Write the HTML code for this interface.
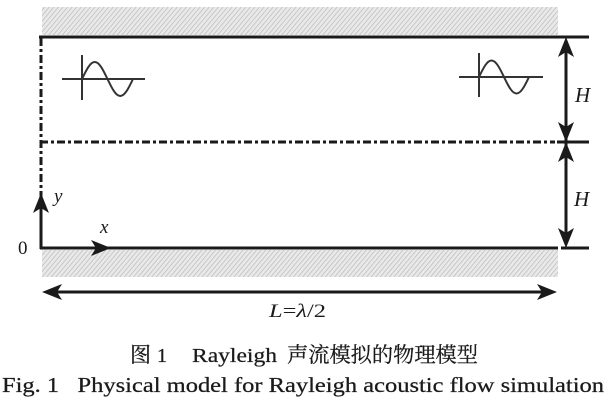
<!DOCTYPE html>
<html><head><meta charset="utf-8"><style>
html,body{margin:0;padding:0;background:#fff;}
svg{display:block;}
</style></head><body>
<svg width="616" height="409" viewBox="0 0 616 409" xmlns="http://www.w3.org/2000/svg">
<defs>
<pattern id="h" width="3.5" height="3.5" patternUnits="userSpaceOnUse" patternTransform="rotate(40)">
<rect width="3.5" height="3.5" fill="#e9e9e9"/>
<line x1="0" y1="0" x2="0" y2="3.5" stroke="#b3b3b3" stroke-width="1.2"/>
</pattern>
</defs>
<rect x="42" y="7" width="516" height="28" fill="url(#h)"/>
<rect x="42" y="250" width="516" height="27" fill="url(#h)"/>

<g stroke="#1a1a1a" stroke-width="3" fill="none">
<line x1="39" y1="37" x2="589" y2="37"/>
<line x1="41" y1="38" x2="41" y2="210" stroke-dasharray="8 3 3 3"/>
<line x1="41" y1="205" x2="41" y2="249"/>
<line x1="40" y1="142" x2="555" y2="142" stroke-dasharray="8 3 3 3"/>
<line x1="557" y1="142" x2="589" y2="142"/>
<line x1="40" y1="248" x2="558" y2="248"/>
<line x1="561" y1="248" x2="589" y2="248"/>
<line x1="566" y1="45" x2="566" y2="240"/>
<line x1="50" y1="292" x2="550" y2="292"/>
</g>
<g fill="#1a1a1a">
<path d="M41,193 L33,213 L41,208 L49,213 Z"/>
<path d="M111,248 L91,240 L96,248 L91,256 Z"/>
<path d="M566,37 L558,57 L566,52 L574,57 Z"/>
<path d="M566,142 L558,122 L566,127 L574,122 Z"/>
<path d="M566,142 L558,162 L566,157 L574,162 Z"/>
<path d="M566,248 L558,228 L566,233 L574,228 Z"/>
<path d="M42,292 L62,284 L57,292 L62,300 Z"/>
<path d="M557,292 L537,284 L542,292 L537,300 Z"/>
</g>

<g stroke="#333" stroke-width="2" fill="none">
<line x1="62" y1="79" x2="145" y2="79"/>
<line x1="82" y1="55" x2="82" y2="100"/>
<path d="M82,79 C86.26,70.07 90.12,62 94.75,62 C99.38,62 103.24,70.07 107.5,79 C111.76,87.93 115.62,96 120.25,96 C124.88,96 128.74,87.93 133,79"/>
<line x1="459" y1="77" x2="543" y2="77"/>
<line x1="479" y1="53" x2="479" y2="97"/>
<path d="M479,77 C483.18,68.34 486.96,60.5 491.5,60.5 C496.04,60.5 499.82,68.34 504,77 C508.18,85.66 511.96,93.5 516.5,93.5 C521.04,93.5 524.82,85.66 529,77"/>
</g>

<g font-family="'Liberation Serif', serif" fill="#1a1a1a">
<text x="575" y="102" font-size="21" font-style="italic">H</text>
<text x="574" y="206" font-size="21" font-style="italic">H</text>
<text x="54" y="202" font-size="19" font-style="italic">y</text>
<text x="100" y="233" font-size="19" font-style="italic">x</text>
<text x="18" y="254" font-size="19">0</text>
<text x="269" y="317" font-size="19" textLength="57" lengthAdjust="spacingAndGlyphs"><tspan font-style="italic">L</tspan>=<tspan font-style="italic">λ</tspan>/2</text>
</g>

<g fill="#1a1a1a" stroke="#1a1a1a" stroke-width="0.25">
<text x="130" y="362" font-size="21" font-family="'Liberation Serif','Noto Serif CJK SC',serif">图</text>
<text x="157" y="362" font-size="20" font-family="'Liberation Serif',serif">1</text>
<text x="192" y="362" font-size="20" font-family="'Liberation Serif',serif" textLength="85" lengthAdjust="spacingAndGlyphs">Rayleigh</text>
<text x="287" y="362" font-size="21" font-family="'Liberation Serif','Noto Serif CJK SC',serif" textLength="191" lengthAdjust="spacingAndGlyphs">声流模拟的物理模型</text>
<text x="2" y="392" font-size="21" font-family="'Liberation Serif',serif" textLength="602" lengthAdjust="spacingAndGlyphs" xml:space="preserve">Fig. 1   Physical model for Rayleigh acoustic flow simulation</text>
</g>
</svg>
</body></html>
